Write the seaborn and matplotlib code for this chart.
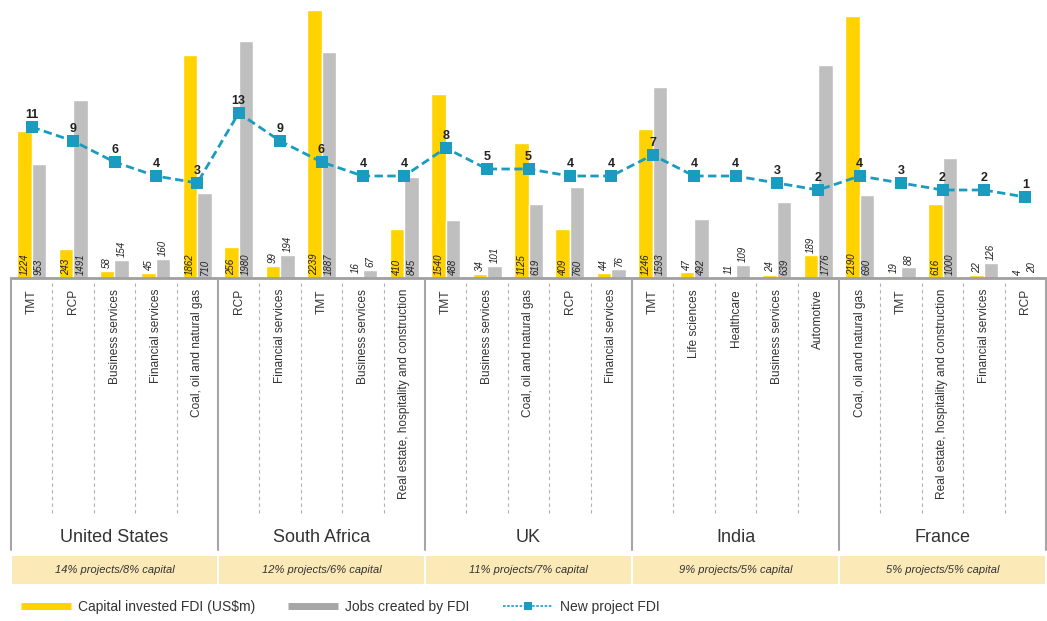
import matplotlib
matplotlib.use("Agg")
import matplotlib.pyplot as plt
from matplotlib.lines import Line2D
from matplotlib.patches import Rectangle
import pandas as pd
import seaborn as sns

countries = ["United States", "South Africa", "UK", "India", "France"]
shares = ["14% projects/8% capital", "12% projects/6% capital", "11% projects/7% capital",
          "9% projects/5% capital", "5% projects/5% capital"]
sectors = [
    "TMT", "RCP", "Business services", "Financial services", "Coal, oil and natural gas",
    "RCP", "Financial services", "TMT", "Business services", "Real estate, hospitality and construction",
    "TMT", "Business services", "Coal, oil and natural gas", "RCP", "Financial services",
    "TMT", "Life sciences", "Healthcare", "Business services", "Automotive",
    "Coal, oil and natural gas", "TMT", "Real estate, hospitality and construction", "Financial services", "RCP",
]
capital = [1224, 243, 58, 45, 1862, 256, 99, 2239, 16, 410, 1540, 34, 1125, 409, 44,
           1246, 47, 11, 24, 189, 2190, 19, 616, 22, 4]
jobs = [953, 1491, 154, 160, 710, 1980, 194, 1887, 67, 845, 488, 101, 619, 760, 76,
        1593, 492, 109, 639, 1776, 690, 88, 1000, 126, 20]
projects = [11, 9, 6, 4, 3, 13, 9, 6, 4, 4, 8, 5, 5, 4, 4, 7, 4, 4, 3, 2, 4, 3, 2, 2, 1]
per_country = 5

YELLOW = "#ffd200"
GREY = "#bfbfbf"
TEAL = "#1a9bc0"
TXT = "#333333"

sns.set_style("white")
plt.rcParams["font.family"] = ["Liberation Sans", "DejaVu Sans"]

pos = list(range(len(sectors)))
df = pd.DataFrame({
    "pos": pos * 2,
    "series": ["Capital"] * len(pos) + ["Jobs"] * len(pos),
    "value": capital + jobs,
})

W, H = 1047, 621
fig = plt.figure(figsize=(W / 100, H / 100), dpi=100)
base = 278
ax = fig.add_axes([11 / W, 1 - base / H, 1035 / W, base / H])

sns.barplot(data=df, x="pos", y="value", hue="series", hue_order=["Capital", "Jobs"],
            palette=[YELLOW, GREY], native_scale=True, width=0.7, gap=0,
            saturation=1, legend=False, ax=ax)
ax.set_xlim(-0.5, len(sectors) - 0.5)
ax.set_ylim(0, 2239 * base / 268)
ax.axis("off")

# value labels at the foot of each bar
for cont in ax.containers:
    for bar in cont:
        h = bar.get_height()
        xc = bar.get_x() + bar.get_width() / 2
        y = 0 if h >= 220 else h
        ax.annotate(f"{h:.0f}", (xc, y), xytext=(0, 2), textcoords="offset points",
                    rotation=90, ha="center", va="bottom", fontsize=7,
                    style="italic", color="#222222")

# line for number of projects on its own scale
ax2 = ax.twinx()
sns.lineplot(x=pos, y=projects, ax=ax2, color=TEAL, marker="s", markersize=8,
             markeredgewidth=0, linewidth=2, linestyle=(0, (3, 1.6)))
ax2.set_ylim(-74 / 7, 204 / 7)
ax2.set_xlim(-0.5, len(sectors) - 0.5)
ax2.axis("off")
for i, v in zip(pos, projects):
    ax2.annotate(str(v), (i, v), xytext=(0, 4.5), textcoords="offset points",
                 ha="center", va="bottom", fontsize=9, fontweight="bold", color="#222222")

# lower panel: sector labels, separators, country names and share band
tr = ax.get_xaxis_transform()
ay = lambda py: (base - py) / base
ax.plot([-0.5, len(sectors) - 0.5], [0, 0], transform=tr, color="#a0a0a0", lw=2, clip_on=False)
for i, s in enumerate(sectors):
    ax.text(i, ay(289), s, transform=tr, rotation=90, ha="center", va="top",
            fontsize=8.6, color=TXT, clip_on=False)
    if (i + 1) % per_country:
        ax.plot([i + 0.5, i + 0.5], [ay(283), ay(515)], transform=tr, color="#b0b0b0",
                lw=0.8, linestyle=(0, (3, 3)), clip_on=False)
for g, (c, s) in enumerate(zip(countries, shares)):
    x0 = g * per_country - 0.5
    x1 = x0 + per_country
    mid = (x0 + x1) / 2
    ax.text(mid, ay(538), c, transform=tr, ha="center", va="center",
            fontsize=13, color=TXT, clip_on=False)
    ax.add_patch(Rectangle((x0 + 0.03, ay(584)), per_country - 0.06, ay(556) - ay(584),
                           transform=tr, facecolor="#fce9b8", edgecolor="none", clip_on=False))
    ax.text(mid, ay(570), s, transform=tr, ha="center", va="center", fontsize=8,
            style="italic", color=TXT, clip_on=False)
for k in range(len(countries) + 1):
    xb = k * per_country - 0.5
    ax.plot([xb, xb], [0, ay(550)], transform=tr, color="#a6a6a6", lw=1.5, clip_on=False)

handles = [
    Line2D([], [], color=YELLOW, lw=5, solid_capstyle="butt"),
    Line2D([], [], color="#a6a6a6", lw=5, solid_capstyle="butt"),
    Line2D([], [], color=TEAL, lw=1.2, linestyle=(0, (1.5, 1)), marker="s",
           markersize=6, markeredgewidth=0),
]
labels = [r"Capital invested FDI (US\$m)", "Jobs created by FDI", "New project FDI"]
fig.legend(handles, labels, loc="center left", bbox_to_anchor=(0.008, 1 - 607 / H),
           ncol=3, frameon=False, fontsize=10, handlelength=3.6, handletextpad=0.5,
           columnspacing=2.4, labelcolor=TXT)

fig.savefig("out.png", dpi=100)
